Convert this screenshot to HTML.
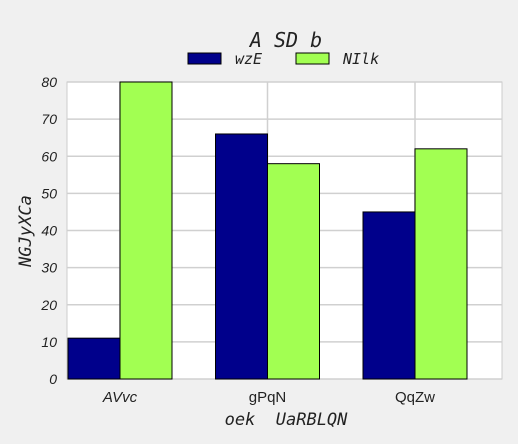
<!DOCTYPE html>
<html><head><meta charset="utf-8"><style>
html,body{margin:0;padding:0;background:#f0f0f0;}
svg{display:block;}
</style></head><body>
<svg id="chart" width="518" height="444" xmlns="http://www.w3.org/2000/svg">
<rect x="0" y="0" width="518" height="444" fill="#f0f0f0"/>
<rect x="67" y="82" width="435" height="297" fill="#ffffff" stroke="#cccccc"/>
<g id="grid"></g>
<g id="bars"></g>
<g id="ticks"></g>
<text x="286" y="47" text-anchor="middle" font-family="DejaVu Sans Mono, monospace" font-style="italic" font-size="20" fill="#222" style="white-space:pre">A SD b</text>
<g>
<rect x="188" y="53" width="33" height="11" fill="#00008b" stroke="#000"/>
<text x="235" y="64" font-family="DejaVu Sans Mono, monospace" font-style="italic" font-size="15" fill="#222">wzE</text>
<rect x="296" y="53" width="33" height="11" fill="#a2ff52" stroke="#000"/>
<text x="343" y="64" font-family="DejaVu Sans Mono, monospace" font-style="italic" font-size="15" fill="#222">NIlk</text>
</g>
<text x="286" y="425" text-anchor="middle" font-family="DejaVu Sans Mono, monospace" font-style="italic" font-size="17" fill="#222" style="white-space:pre">oek  UaRBLQN</text>
<text transform="translate(31,231) rotate(-90)" text-anchor="middle" font-family="DejaVu Sans Mono, monospace" font-style="italic" font-size="17" fill="#222">NGJyXCa</text>
</svg>
<script>
const categories = ["AVvc", "gPqN", "QqZw"];
const seriesWzE = [11, 66, 45];
const seriesNIlk = [80, 58, 62];
const yTicks = [0, 10, 20, 30, 40, 50, 60, 70, 80];

const NS = "http://www.w3.org/2000/svg";
const y = v => 379 - v * (297 / 80);
const x = i => 120 + 147.5 * i;
const bw = 52;
const grid = document.getElementById("grid");
const bars = document.getElementById("bars");
const ticks = document.getElementById("ticks");
function mk(tag, attrs, parent) {
  const e = document.createElementNS(NS, tag);
  for (const k in attrs) e.setAttribute(k, attrs[k]);
  parent.appendChild(e);
  return e;
}
yTicks.forEach(t => {
  const l = mk("line", {x1: 67, x2: 502, y1: y(t), y2: y(t), stroke: "#d0d0d0", "stroke-width": 1.5}, grid);
  
  
  const tx = mk("text", {x: 57, y: y(t) + 5, "text-anchor": "end", "font-family": "Liberation Sans, sans-serif", "font-style": "italic", "font-size": 14, fill: "#222"}, ticks);
  tx.textContent = t;
  
  
});
categories.forEach((c, i) => {
  const l = mk("line", {x1: x(i), x2: x(i), y1: 82, y2: 379, stroke: "#d0d0d0", "stroke-width": 1.5}, grid);
  
  
  const b1 = mk("rect", {x: x(i) - bw, y: y(seriesWzE[i]), width: bw, height: 379 - y(seriesWzE[i]), fill: "#00008b", stroke: "#000", "stroke-width": 1}, bars);
  
  
  const b2 = mk("rect", {x: x(i), y: y(seriesNIlk[i]), width: bw, height: 379 - y(seriesNIlk[i]), fill: "#a2ff52", stroke: "#000", "stroke-width": 1}, bars);
  
  
  const tx = mk("text", {x: x(i), y: 402, "text-anchor": "middle", "font-family": "Liberation Sans, sans-serif", "font-size": 15, fill: "#222"}, ticks);
  if (i === 0) tx.setAttribute("font-style", "italic");
  tx.textContent = c;
  
  
});
</script>
</body></html>
